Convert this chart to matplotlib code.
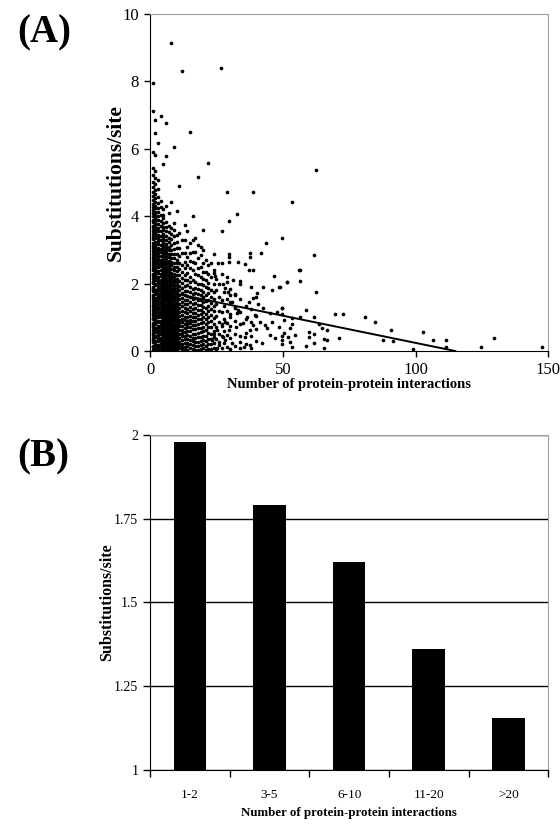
import numpy as np
import matplotlib
matplotlib.use('Agg')
from matplotlib import pyplot as plt

plt.rcParams['font.family'] = 'Liberation Serif'

# Panel A: substitutions/site per protein, grouped by number of interactions
y_at_1 = [0.03, 0.11, 0.16, 0.27, 0.33, 0.38, 0.49, 0.54, 0.62, 0.71, 0.77, 0.83, 0.94, 0.99, 1.08, 1.14,
          1.21, 1.32, 1.37, 1.45, 1.53, 1.61, 1.66, 1.78, 1.84, 1.9, 2.01, 2.06, 2.15, 2.24, 2.29, 2.41,
          2.47, 2.55, 2.63, 2.72, 2.79, 2.88, 2.96, 3.05, 3.12, 3.2, 3.31, 3.38, 3.46, 3.57, 3.64, 3.72,
          3.83, 3.9, 4.01, 4.09, 4.18, 4.27, 4.36, 4.48, 4.59, 4.73, 4.86, 5.02, 5.21, 5.44, 5.9, 7.13, 7.94]
y_at_2 = [0.06, 0.14, 0.22, 0.29, 0.41, 0.46, 0.57, 0.65, 0.69, 0.8, 0.88, 0.96, 1.04, 1.12, 1.19, 1.27,
          1.35, 1.43, 1.49, 1.58, 1.69, 1.74, 1.82, 1.95, 1.98, 2.1, 2.19, 2.27, 2.36, 2.44, 2.52, 2.6,
          2.68, 2.76, 2.84, 2.92, 3.01, 3.09, 3.16, 3.25, 3.34, 3.42, 3.51, 3.6, 3.69, 3.78, 3.86, 3.95,
          4.05, 4.14, 4.23, 4.31, 4.42, 4.53, 4.66, 4.79, 4.95, 5.13, 5.33, 5.82, 6.47, 6.85]
y_at_3 = [0.04, 0.12, 0.19, 0.3, 0.35, 0.44, 0.52, 0.6, 0.67, 0.75, 0.85, 0.9, 1.01, 1.06, 1.16, 1.24,
          1.3, 1.4, 1.47, 1.56, 1.63, 1.71, 1.8, 1.87, 1.96, 2.04, 2.12, 2.21, 2.31, 2.38, 2.5, 2.57,
          2.66, 2.74, 2.82, 2.9, 2.99, 3.07, 3.18, 3.27, 3.36, 3.45, 3.55, 3.66, 3.77, 3.88, 4.0, 4.12,
          4.25, 4.4, 4.57, 4.81, 5.07, 6.17]
y_at_4 = [0.07, 0.15, 0.25, 0.32, 0.4, 0.5, 0.58, 0.64, 0.74, 0.82, 0.89, 1.0, 1.09, 1.15, 1.26, 1.34,
          1.42, 1.51, 1.6, 1.68, 1.77, 1.85, 1.93, 2.03, 2.11, 2.22, 2.3, 2.4, 2.51, 2.61, 2.7, 2.81,
          2.93, 3.03, 3.15, 3.28, 3.4, 3.55, 3.7, 3.86, 4.05, 4.28, 4.45, 6.97]
y_at_5 = [0.05, 0.13, 0.21, 0.31, 0.39, 0.47, 0.56, 0.63, 0.72, 0.81, 0.92, 0.98, 1.07, 1.18, 1.25, 1.36,
          1.44, 1.53, 1.64, 1.72, 1.83, 1.91, 2.02, 2.14, 2.23, 2.35, 2.46, 2.58, 2.71, 2.84, 2.98, 3.12,
          3.3, 3.47, 3.68, 3.94, 4.2, 5.55,
          0.09, 0.18, 0.26, 0.35, 0.44, 0.52, 0.6, 0.69, 0.77, 0.87, 0.95, 1.03, 1.12, 1.22, 1.3, 1.4,
          1.49, 1.58, 1.69, 1.78, 1.87, 1.97, 2.08, 2.19, 2.29, 2.41, 2.53, 2.65, 2.78, 2.91, 3.05, 3.21,
          3.39, 3.58, 3.81, 4.05]
y_at_6 = [0.03, 0.1, 0.2, 0.28, 0.37, 0.45, 0.55, 0.66, 0.73, 0.84, 0.93, 1.03, 1.13, 1.22, 1.33, 1.41,
          1.52, 1.62, 1.73, 1.84, 1.94, 2.06, 2.18, 2.31, 2.43, 2.57, 2.72, 2.9, 3.08, 3.3, 3.55, 3.83,
          4.3, 5.8, 6.76,
          0.06, 0.15, 0.24, 0.33, 0.41, 0.5, 0.6, 0.7, 0.78, 0.89, 0.98, 1.08, 1.18, 1.27, 1.37, 1.47,
          1.57, 1.67, 1.78, 1.89, 2.0, 2.12, 2.25, 2.37, 2.5, 2.64, 2.81, 2.99, 3.19, 3.42, 3.69]
y_at_7 = [0.08, 0.17, 0.26, 0.36, 0.48, 0.57, 0.68, 0.79, 0.87, 0.99, 1.1, 1.2, 1.31, 1.43, 1.55, 1.66,
          1.79, 1.9, 2.05, 2.2, 2.34, 2.52, 2.68, 2.88, 3.1, 3.36, 3.7, 4.1,
          0.03, 0.12, 0.21, 0.31, 0.42, 0.52, 0.62, 0.73, 0.83, 0.93, 1.04, 1.15, 1.25, 1.37, 1.49, 1.6,
          1.72, 1.84, 1.97, 2.12, 2.27, 2.43, 2.6, 2.78, 2.99, 3.23, 3.52]
y_at_8 = [0.04, 0.14, 0.23, 0.34, 0.46, 0.53, 0.65, 0.76, 0.86, 0.97, 1.1, 1.19, 1.3, 1.45, 1.57, 1.7,
          1.85, 2.0, 2.16, 2.33, 2.55, 2.76, 3.0, 3.32, 3.66, 4.42, 9.14,
          0.09, 0.19, 0.28, 0.4, 0.5, 0.59, 0.71, 0.81, 0.91, 1.03, 1.15, 1.24, 1.37, 1.51, 1.63, 1.77,
          1.92, 2.08, 2.24, 2.44, 2.65, 2.88, 3.16, 3.48]
y_at_9 = [0.06, 0.18, 0.29, 0.4, 0.51, 0.63, 0.74, 0.88, 1.0, 1.12, 1.24, 1.38, 1.5, 1.64, 1.8, 1.96,
          2.12, 2.3, 2.5, 2.75, 3.02, 3.4, 3.8, 6.04,
          0.12, 0.23, 0.35, 0.45, 0.57, 0.68, 0.81, 0.94, 1.06, 1.18, 1.31, 1.44, 1.57, 1.72, 1.88, 2.04,
          2.21, 2.4, 2.62, 2.88, 3.2, 3.6]
y_at_10 = [0.02, 0.12, 0.24, 0.35, 0.47, 0.6, 0.71, 0.84, 0.96, 1.09, 1.23, 1.37, 1.52, 1.68, 1.86, 2.05,
           2.26, 2.48, 2.71, 3.05, 3.45, 4.15,
           0.07, 0.18, 0.3, 0.41, 0.53, 0.65, 0.77, 0.9, 1.02, 1.16, 1.3, 1.44, 1.6, 1.77, 1.95, 2.15,
           2.37, 2.6, 2.88, 3.25]
y_at_11 = [0.09, 0.28, 0.5, 0.73, 0.93, 1.17, 1.4, 1.66, 1.93, 2.25, 2.6, 3.05, 4.9,
           0.19, 0.39, 0.61, 0.83, 1.05, 1.28, 1.53, 1.8, 2.09, 2.42, 2.82, 3.5]
y_at_12 = [0.05, 0.22, 0.44, 0.62, 0.86, 1.07, 1.33, 1.58, 1.88, 2.18, 2.55, 3.3, 8.32,
           0.13, 0.33, 0.53, 0.74, 0.96, 1.2, 1.45, 1.72, 2.02, 2.36, 2.9]
y_at_13 = [0.12, 0.35, 0.56, 0.81, 1.02, 1.28, 1.52, 1.79, 2.1, 2.45, 2.9, 3.75,
           0.02, 0.23, 0.45, 0.68, 0.92, 1.15, 1.4, 1.65, 1.94, 2.27, 2.65, 3.3]
y_at_14 = [0.03, 0.25, 0.47, 0.7, 0.9, 1.14, 1.39, 1.62, 1.95, 2.32, 2.8, 3.55,
           0.14, 0.36, 0.58, 0.8, 1.02, 1.26, 1.5, 1.78, 2.12, 2.55, 3.1]
y_at_15 = [0.1, 0.33, 0.6, 0.82, 1.05, 1.3, 1.6, 1.91, 2.21, 2.66, 3.2, 6.5,
           0.21, 0.46, 0.71, 0.93, 1.18, 1.45, 1.75, 2.05, 2.45, 2.9]
y_at_16 = [0.07, 0.29, 0.52, 0.78, 1.0, 1.26, 1.55, 1.85, 2.4, 2.95, 4.0,
           0.18, 0.4, 0.65, 0.89, 1.13, 1.4, 1.7, 2.1, 2.65, 3.3]
y_at_17 = [0.15, 0.4, 0.64, 0.9, 1.12, 1.44, 1.72, 2.05, 2.6, 3.35,
           0.04, 0.27, 0.52, 0.77, 1.01, 1.28, 1.58, 1.88, 2.3, 2.95]
y_at_18 = [0.04, 0.27, 0.55, 0.8, 1.08, 1.36, 1.68, 2.0, 2.45, 3.15, 5.16,
           0.15, 0.41, 0.68, 0.94, 1.22, 1.52, 1.84, 2.25, 2.75]
y_at_19 = [0.18, 0.43, 0.69, 0.96, 1.22, 1.5, 1.82, 2.2, 2.85,
           0.06, 0.3, 0.56, 0.82, 1.09, 1.36, 1.66, 2.0, 2.5, 3.1]
y_at_20 = [0.08, 0.32, 0.58, 0.85, 1.15, 1.45, 1.75, 2.15, 2.6, 3.6,
           0.2, 0.45, 0.71, 1.0, 1.3, 1.6, 1.95, 2.35, 3.0]
y_at_21 = [0.14, 0.45, 0.79, 1.1, 1.48, 1.9, 2.35, 0.03, 0.3, 0.62, 0.95, 1.28, 1.65, 2.1, 2.7]
y_at_22 = [0.06, 0.37, 0.7, 1.02, 1.35, 1.72, 2.03, 2.55, 5.57, 0.22, 0.53, 0.86, 1.19, 1.52, 1.88, 2.3]
y_at_23 = [0.2, 0.52, 0.9, 1.25, 1.6, 2.2, 0.07, 0.36, 0.72, 1.08, 1.42, 1.8, 2.6]
y_at_24 = [0.1, 0.42, 0.81, 1.18, 1.55, 1.98, 0.25, 0.6, 0.98, 1.35, 1.75, 2.4]
y_at_25 = [0.05, 0.35, 0.7, 1.05, 1.4, 1.8, 2.15]
y_at_26 = [0.18, 0.5, 0.85, 1.2, 1.6, 2.0]
y_at_27 = [0.1, 0.45, 0.8, 1.15, 1.5, 2.3]
y_at_28 = [0.25, 0.6, 0.95, 1.35, 1.75]
y_at_29 = [0.12, 0.48, 0.82, 1.18, 1.55, 2.2]
y_at_30 = [0.05, 0.4, 0.75, 1.1, 1.45, 1.85]
dense_columns = [y_at_1, y_at_2, y_at_3, y_at_4, y_at_5, y_at_6, y_at_7, y_at_8, y_at_9, y_at_10,
                 y_at_11, y_at_12, y_at_13, y_at_14, y_at_15, y_at_16, y_at_17, y_at_18, y_at_19,
                 y_at_20, y_at_21, y_at_22, y_at_23, y_at_24, y_at_25, y_at_26, y_at_27, y_at_28,
                 y_at_29, y_at_30]

# sparser points, mostly beyond 24 interactions
sparse_x = [23.9, 29.8, 29.8, 37.7, 37.7, 41.7, 25.7, 27.0, 29.8, 33.0, 35.8, 38.6, 37.2, 23.9, 24.5,
            46.5, 51.7, 28.9, 31.2, 33.7, 42.7, 48.6, 45.8, 27.6, 28.3, 29.5, 30.2, 32.0, 30.8, 32.0,
            33.3, 32.7, 30.2, 28.3, 27.0, 25.1, 23.9, 23.2, 25.8, 28.3, 30.8, 33.9, 35.8, 37.7, 38.9,
            41.5, 44.0, 45.2, 47.1, 49.6, 52.1, 42.1, 37.7, 35.2, 25.1, 40.2, 38.9, 37.4, 40.8, 42.7,
            45.0, 47.8, 49.6, 50.5, 48.4, 45.9, 43.3, 39.6, 36.4, 34.9, 32.4, 29.9, 27.4,
            26.9, 28.9, 38.7, 32.9, 29.9, 27.0, 43.7, 49.8, 53.6, 56.2,
            61.6, 56.6, 51.6, 56.6, 62.6, 49.0, 49.6, 58.7, 49.6, 56.6, 61.6, 69.6, 72.6, 80.8,
            84.8, 90.7, 102.8, 106.7, 111.6, 111.6, 98.9, 124.6, 129.7, 147.6, 87.7, 91.6, 71.2,
            65.7, 66.7, 65.7, 64.7, 62.6, 59.7, 61.6, 59.7, 61.6, 58.7, 54.7, 53.6, 52.8, 52.8,
            50.6, 49.6, 49.6, 53.6, 63.8, 66.6, 53.6,
            32, 32, 32, 32, 32, 34, 34, 34, 34, 34, 34, 36, 36, 36, 36, 38, 38, 38, 38, 38, 40, 40, 40, 40]
sparse_y = [2.88, 2.88, 2.78, 2.9, 2.78, 2.9, 2.62, 2.62, 2.63, 2.63, 2.58, 2.4, 2.4, 2.33, 2.23,
            2.23, 2.04, 2.06, 2.11, 2.09, 1.91, 1.91, 1.81, 1.98, 1.86, 1.76, 1.66, 1.66, 1.46, 1.27,
            1.22, 1.12, 1.0, 0.87, 0.74, 0.62, 0.52, 0.33, 0.28, 0.33, 0.23, 0.28, 0.41, 0.62, 0.77,
            0.87, 0.67, 0.47, 0.38, 0.33, 0.43, 0.25, 0.18, 0.11, 0.08, 1.71, 1.56, 1.46, 1.41, 1.27,
            1.14, 1.17, 1.27, 0.92, 0.72, 0.87, 0.77, 1.07, 1.02, 0.84, 0.72, 0.62, 0.43,
            8.39, 4.73, 4.73, 4.07, 3.87, 3.57, 3.21, 3.34, 4.43, 2.4,
            2.85, 2.41, 2.04, 2.09, 1.76, 1.91, 1.28, 1.22, 1.1, 1.0, 1.0, 1.1, 1.1, 1.0,
            0.87, 0.62, 0.57, 0.33, 0.33, 0.13, 0.06, 0.11, 0.4, 0.11, 0.33, 0.3, 0.38,
            0.35, 0.32, 0.08, 0.67, 5.37, 0.57, 0.5, 0.43, 0.25, 0.16, 0.47, 0.13, 0.28, 0.67,
            0.54, 0.45, 0.21, 0.8, 0.8, 0.62, 0.97,
            0.15, 0.5, 0.9, 1.3, 1.7, 0.08, 0.45, 0.8, 1.15, 1.55, 2.0, 0.2, 0.55, 0.95, 1.35,
            0.1, 0.45, 0.85, 1.25, 1.9, 0.3, 0.65, 1.05, 1.6]

# linear trend line end points
trend_x = [1, 115]
trend_y = [1.84, 0.0]

# Panel B
bin_labels = ['1-2', '3-5', '6-10', '11-20', '>20']
bin_means = [1.98, 1.79, 1.62, 1.36, 1.155]

scatter_x = []
scatter_y = []
for i, col in enumerate(dense_columns):
    scatter_x += [i + 1] * len(col)
    scatter_y += col
scatter_x += sparse_x
scatter_y += sparse_y

fig = plt.figure(figsize=(5.6, 8.25), dpi=100)
grey = '#a0a0a0'

# ---- (A) scatter ----
ax1 = fig.add_axes([0.268, 0.5745, 0.711, 0.4085])
ax1.scatter(scatter_x, scatter_y, s=7, c='black', linewidths=0, zorder=3)
ax1.plot(trend_x, trend_y, color='black', lw=1.4, zorder=4)
ax1.set_xlim(0, 150)
ax1.set_ylim(0, 10)
ax1.set_xticks([0, 50, 100, 150])
ax1.set_yticks([0, 2, 4, 6, 8, 10])
ax1.tick_params(direction='out', length=4, width=1, labelsize=12, pad=4)
ax1.set_xlabel('Number of protein-protein interactions', fontsize=10.5, fontweight='bold', labelpad=0)
ax1.set_ylabel('Substitutions/site', fontsize=15.5, fontweight='bold')
ax1.yaxis.set_label_coords(-0.06, 0.5)
ax1.spines['top'].set_color(grey)
ax1.spines['right'].set_color(grey)
fig.text(0.03, 0.982, '(A)', fontsize=28, fontweight='bold', va='top', ha='left')

# ---- (B) bars ----
ax2 = fig.add_axes([0.268, 0.0667, 0.711, 0.406])
pos = np.arange(len(bin_labels))
ax2.bar(pos, np.array(bin_means) - 1, bottom=1, width=0.41, color='black', zorder=3)
ax2.set_xlim(-0.5, len(bin_labels) - 0.5)
ax2.set_ylim(1, 2)
ax2.set_yticks([1, 1.25, 1.5, 1.75, 2])
ax2.set_yticklabels(['1', '1.25', '1.5', '1.75', '2'])
ax2.yaxis.grid(True, color='black', lw=1)
ax2.set_xticks(pos)
ax2.set_xticklabels(bin_labels)
ax2.set_xticks(np.arange(len(bin_labels) + 1) - 0.5, minor=True)
ax2.tick_params(axis='x', which='major', length=0, pad=14, labelsize=9.5)
ax2.tick_params(axis='x', which='minor', direction='out', length=5, width=1)
ax2.tick_params(axis='y', direction='out', length=5, width=1, labelsize=10)
ax2.set_xlabel('Number of protein-protein interactions', fontsize=9.3, fontweight='bold', labelpad=4)
ax2.set_ylabel('Substitutions/site', fontsize=11.5, fontweight='bold')
ax2.yaxis.set_label_coords(-0.088, 0.5)
ax2.spines['top'].set_color(grey)
ax2.spines['right'].set_color(grey)
fig.text(0.03, 0.468, '(B)', fontsize=28, fontweight='bold', va='top', ha='left')

plt.savefig('out.png', dpi=100)
